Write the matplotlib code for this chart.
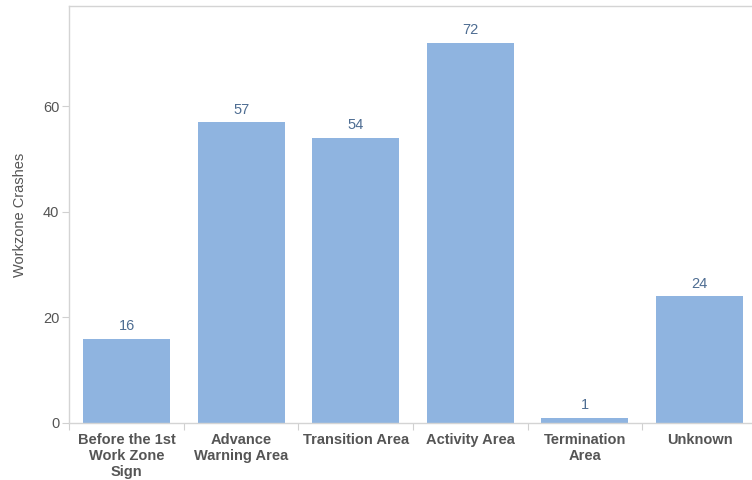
import numpy as np
import matplotlib
matplotlib.use('Agg')
import matplotlib.pyplot as plt

categories = ['Before the 1st\nWork Zone\nSign', 'Advance\nWarning Area', 'Transition Area',
              'Activity Area', 'Termination\nArea', 'Unknown']
crashes = [16, 57, 54, 72, 1, 24]
yticks = [0, 20, 40, 60]

plt.rcParams['font.family'] = ['Liberation Sans', 'DejaVu Sans']

fig = plt.figure(figsize=(7.52, 4.8), dpi=100)
ax = fig.add_axes([69.2 / 752, 57 / 480, (756.8 - 69.2) / 752, 417 / 480])

x = np.arange(len(categories))
bars = ax.bar(x, crashes, width=0.76, color='#8fb4e0', zorder=2)
for xi, v in zip(x, crashes):
    ax.annotate(str(v), (xi, v), xytext=(0, 4), textcoords='offset points',
                ha='center', va='bottom', fontsize=10.5, color='#4e6d92')

ax.set_xlim(-0.5, len(categories) - 0.5)
ax.set_ylim(0, 79)
ax.set_yticks(yticks)
ax.set_yticklabels([str(t) for t in yticks])
ax.tick_params(axis='y', length=5, width=0.8, color='#d0d0d0', labelsize=10.5,
               labelcolor='#555555', pad=2)
ax.set_xticks(x)
ax.set_xticklabels(categories, fontsize=10.5, fontweight='bold', color='#555555',
                   linespacing=1.2)
ax.tick_params(axis='x', which='major', length=0, pad=7)
ax.set_xticks(np.arange(len(categories) + 1) - 0.5, minor=True)
ax.tick_params(axis='x', which='minor', length=5, width=0.8, color='#d0d0d0')

for side in ['left', 'top', 'bottom', 'right']:
    ax.spines[side].set_color('#d4d4d4')
    ax.spines[side].set_linewidth(1.0)

ax.set_ylabel('Workzone Crashes', fontsize=10.5, color='#555555')
ax.yaxis.set_label_coords(-0.062, 0.5)

fig.savefig('out.png', dpi=100)
